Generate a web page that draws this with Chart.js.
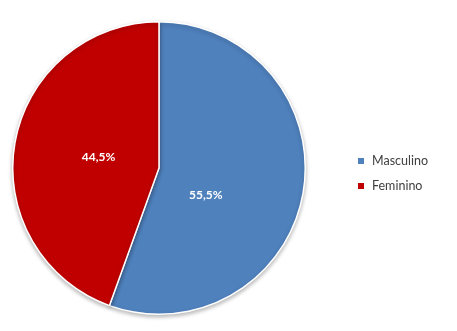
<!DOCTYPE html>
<html>
<head>
<meta charset="utf-8">
<script src="https://cdn.jsdelivr.net/npm/chart.js@4/dist/chart.umd.min.js"></script>
<style>
  html, body { margin: 0; padding: 0; background: #fff; }
  #wrap { width: 457px; height: 331px; position: relative; }
</style>
</head>
<body>
<div id="wrap"><canvas id="pieChart" width="457" height="331"></canvas></div>
<script>
// chart data
const categories = ['Masculino', 'Feminino'];
const shares = [55.5, 44.5];
const sliceColors = ['#4F81BD', '#C00000'];

const fmt = v => v.toFixed(1).replace('.', ',') + '%';

// soft shadow under the pie, like the office export
const pieShadow = {
  id: 'pieShadow',
  beforeDatasetsDraw(chart) {
    const { ctx } = chart;
    ctx.save();
    ctx.shadowColor = 'rgba(0, 0, 0, 0.28)';
    ctx.shadowBlur = 4;
    ctx.shadowOffsetY = 2;
  },
  afterDatasetsDraw(chart) {
    chart.ctx.restore();
  }
};

// percent labels inside the slices
const sliceLabels = {
  id: 'sliceLabels',
  afterDraw(chart) {
    const { ctx } = chart;
    const meta = chart.getDatasetMeta(0);
    ctx.save();
    ctx.font = 'bold 12px Lato, "Liberation Sans", sans-serif';
    ctx.fillStyle = '#ffffff';
    ctx.textAlign = 'center';
    ctx.textBaseline = 'middle';
    meta.data.forEach((arc, i) => {
      const { x, y, startAngle, endAngle, outerRadius } = arc.getProps(['x', 'y', 'startAngle', 'endAngle', 'outerRadius'], true);
      // the bigger slice label sits a bit lower/inward (excel best fit)
      const mid = (startAngle + endAngle) / 2 + (i === 0 ? 0.35 : 0);
      const r = outerRadius * (i === 0 ? 0.37 : 0.42);
      ctx.fillText(fmt(shares[i]), x + Math.cos(mid) * r, y + Math.sin(mid) * r);
    });
    ctx.restore();
  }
};

// legend on the right, small squares
const sideLegend = {
  id: 'sideLegend',
  afterDraw(chart) {
    const { ctx } = chart;
    const left = 358;
    const top = 161;
    const step = 25;
    ctx.save();
    ctx.font = '12.5px Lato, "Liberation Sans", sans-serif';
    ctx.textBaseline = 'middle';
    categories.forEach((name, i) => {
      const y = top + i * step;
      ctx.fillStyle = sliceColors[i];
      ctx.fillRect(left, y - 3, 6, 6);
      ctx.fillStyle = '#404040';
      ctx.fillText(name, left + 14, y);
    });
    ctx.restore();
  }
};

new Chart(document.getElementById('pieChart'), {
  type: 'pie',
  data: {
    labels: categories,
    datasets: [{
      data: shares,
      backgroundColor: sliceColors,
      borderColor: '#ffffff',
      borderWidth: 1.5
    }]
  },
  plugins: [pieShadow, sliceLabels, sideLegend],
  options: {
    responsive: false,
    animation: false,
    layout: { padding: { left: 12, top: 21, right: 151, bottom: 16 } },
    plugins: {
      legend: { display: false },
      tooltip: { enabled: false }
    }
  }
});
</script>
</body>
</html>
